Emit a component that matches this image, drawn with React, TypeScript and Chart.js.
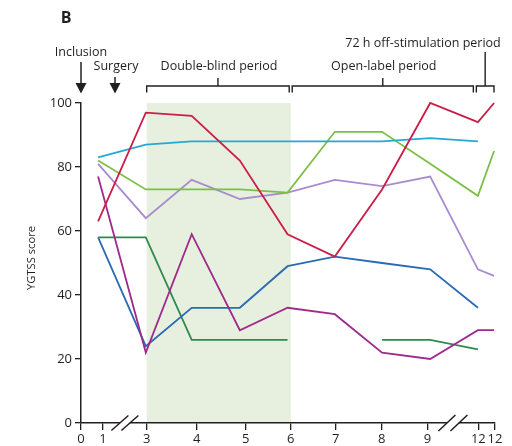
import React, { useEffect, useRef } from "react";
import { Chart, registerables } from "chart.js";

Chart.register(...registerables);

// X axis: visit tick labels and their positions along a (non-uniform, broken) axis
const tickLabels = ["0", "1", "3", "4", "5", "6", "7", "8", "9", "12", "12"];
const tickPositions = [0, 0.49, 1.46, 2.57, 3.66, 4.66, 5.66, 6.68, 7.7, 8.83, 9.2];

// Positions at which scores were plotted (visit 1, 3, 4, 5, 6, 7, 8, 9, 12, 12 off-stim)
const visitPositions = [0.38, 1.44, 2.46, 3.53, 4.59, 5.64, 6.69, 7.76, 8.82, 9.18];

// YGTSS scores per patient
const redScores = [63, 97, 96, 82, 59, 52, 73, 100, 94, 100];
const cyanScores = [83, 87, 88, 88, 88, 88, 88, 89, 88, null];
const lightGreenScores = [82, 73, 73, 73, 72, 91, 91, 81, 71, 85];
const lavenderScores = [81, 64, 76, 70, 72, 76, 74, 77, 48, 46];
const magentaScores = [77, 22, 59, 29, 36, 34, 22, 20, 29, 29];
const blueScores = [58, 24, 36, 36, 49, 52, 50, 48, 36, null];
const darkGreenScores = [58, 58, 26, 26, 26, null, 26, 26, 23, null];

const yTicks = [0, 20, 40, 60, 80, 100];

const FONT = "'Open Sans', 'DejaVu Sans', sans-serif";
const INK = "#231f20";

const series = [
  { name: "P1", data: redScores, color: "#cc1d48" },
  { name: "P2", data: cyanScores, color: "#25a9d4" },
  { name: "P3", data: lightGreenScores, color: "#7cbf45" },
  { name: "P4", data: lavenderScores, color: "#a88ccf" },
  { name: "P5", data: magentaScores, color: "#9e2a8d" },
  { name: "P6", data: blueScores, color: "#2b6bb3" },
  { name: "P7", data: darkGreenScores, color: "#2e8a4f" },
];

const annotPlugin = {
  id: "annot",
  beforeDraw(chart: any) {
    const { ctx, scales } = chart;
    const x = scales.x;
    const y = scales.y;
    const x0 = x.getPixelForValue(tickPositions[2]);
    const x1 = x.getPixelForValue(tickPositions[5]);
    const yTop = y.getPixelForValue(100);
    const yBot = y.getPixelForValue(0);
    ctx.save();
    ctx.fillStyle = "#e7f0de";
    ctx.fillRect(x0, yTop, x1 - x0, yBot - yTop);
    ctx.restore();
  },
  afterDraw(chart: any) {
    const { ctx, scales } = chart;
    const x = scales.x;
    const y = scales.y;
    const axisY = y.getPixelForValue(0);
    ctx.save();

    // axis breaks
    const drawBreak = (cx: number, dx: number, hw: number, hh: number) => {
      ctx.fillStyle = "#ffffff";
      ctx.fillRect(cx - dx, axisY - 2, 2 * dx, 4);
      ctx.strokeStyle = INK;
      ctx.lineWidth = 1.5;
      [-dx, dx].forEach((o) => {
        ctx.beginPath();
        ctx.moveTo(cx + o - hw, axisY + hh);
        ctx.lineTo(cx + o + hw, axisY - hh);
        ctx.stroke();
      });
    };
    drawBreak(x.getPixelForValue((tickPositions[1] + tickPositions[2]) / 2), 5, 8.5, 7.5);
    drawBreak(x.getPixelForValue((tickPositions[8] + tickPositions[9]) / 2), 6, 8.5, 8);

    // y title
    ctx.fillStyle = INK;
    ctx.font = `11.2px ${FONT}`;
    ctx.textAlign = "center";
    ctx.textBaseline = "middle";
    ctx.save();
    ctx.translate(32, 258);
    ctx.rotate(-Math.PI / 2);
    ctx.fillText("YGTSS score", 0, 0);
    ctx.restore();

    // panel letter
    ctx.font = `bold 16px ${FONT}`;
    ctx.fillText("B", 66, 18);

    // labels
    ctx.font = `12.5px ${FONT}`;
    const xIncl = x.getPixelForValue(tickPositions[0]);
    ctx.fillText("Inclusion", xIncl, 52);
    ctx.fillText("Surgery", 116, 66);

    // arrows
    const arrow = (ax: number, top: number) => {
      ctx.strokeStyle = INK;
      ctx.lineWidth = 1.5;
      ctx.beginPath();
      ctx.moveTo(ax, top);
      ctx.lineTo(ax, 85);
      ctx.stroke();
      ctx.beginPath();
      ctx.moveTo(ax - 5.5, 83);
      ctx.lineTo(ax + 5.5, 83);
      ctx.lineTo(ax, 93.5);
      ctx.closePath();
      ctx.fill();
    };
    arrow(xIncl, 62);
    arrow(115, 77);

    // brackets
    const bracket = (a: number, b: number, label: string | null, midTop: number) => {
      const by = 86;
      ctx.strokeStyle = INK;
      ctx.lineWidth = 1.4;
      ctx.beginPath();
      ctx.moveTo(a, 92.5);
      ctx.lineTo(a, by);
      ctx.lineTo(b, by);
      ctx.lineTo(b, 92.5);
      ctx.stroke();
      const m = (a + b) / 2;
      ctx.beginPath();
      ctx.moveTo(m, by);
      ctx.lineTo(m, midTop);
      ctx.stroke();
      if (label) ctx.fillText(label, m + 1, 66);
    };
    const p3 = x.getPixelForValue(tickPositions[2]);
    const p6 = x.getPixelForValue(tickPositions[5]);
    const p12a = x.getPixelForValue(tickPositions[9]);
    const p12b = x.getPixelForValue(tickPositions[10]);
    bracket(p3, p6 - 1.5, "Double-blind period", 78);
    bracket(p6 + 1.5, p12a - 5, "Open-label period", 78);
    bracket(p12a - 2, p12b - 1, null, 52);
    ctx.fillText("72 h off-stimulation period", 423, 43);

    ctx.restore();
  },
};

export default function App() {
  const ref = useRef<HTMLCanvasElement | null>(null);

  useEffect(() => {
    if (!ref.current) return;
    const chart = new Chart(ref.current, {
      type: "line",
      data: {
        datasets: series.map((s) => ({
          label: s.name,
          data: s.data.map((v, i) => ({ x: visitPositions[i], y: v as any })),
          borderColor: s.color,
          backgroundColor: s.color,
          borderWidth: 1.8,
          pointRadius: 0,
          tension: 0,
          spanGaps: false,
          clip: false as any,
        })),
      },
      options: {
        animation: false,
        responsive: true,
        maintainAspectRatio: false,
        layout: { padding: { left: 0, top: 103, right: 17, bottom: 0 } },
        plugins: { legend: { display: false }, tooltip: { enabled: false }, title: { display: false } },
        scales: {
          x: {
            type: "linear",
            min: 0,
            max: tickPositions[tickPositions.length - 1],
            afterFit: (scale: any) => {
              scale.height = 23;
            },
            afterBuildTicks: (scale: any) => {
              scale.ticks = tickPositions.map((v) => ({ value: v }));
            },
            grid: {
              display: true,
              drawOnChartArea: false,
              drawTicks: true,
              tickLength: 7,
              color: INK,
              lineWidth: 1.3,
            },
            border: { display: true, color: INK, width: 1.5 },
            ticks: {
              autoSkip: false,
              maxRotation: 0,
              padding: 1,
              color: INK,
              font: { family: FONT, size: 13 },
              callback: (_v: any, i: number) => tickLabels[i],
            },
          },
          y: {
            type: "linear",
            min: 0,
            max: 100,
            afterFit: (scale: any) => {
              scale.width = 81;
            },
            afterBuildTicks: (scale: any) => {
              scale.ticks = yTicks.map((v) => ({ value: v }));
            },
            grid: {
              display: true,
              drawOnChartArea: false,
              drawTicks: true,
              tickLength: 6,
              color: INK,
              lineWidth: 1.3,
            },
            border: { display: true, color: INK, width: 1.5 },
            ticks: {
              padding: 3,
              color: INK,
              font: { family: FONT, size: 13 },
            },
          },
        },
      },
      plugins: [annotPlugin],
    });
    return () => chart.destroy();
  }, []);

  return (
    <div style={{ position: "absolute", left: 0, top: 0, width: 512, height: 446, background: "#fff" }}>
      <canvas ref={ref} />
    </div>
  );
}
